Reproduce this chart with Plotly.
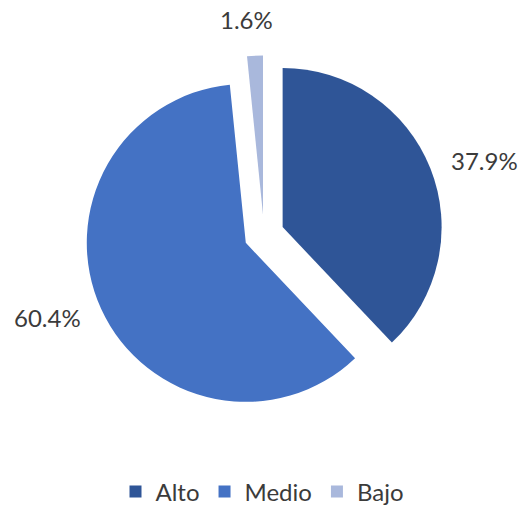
import math
import plotly.graph_objects as go

categories = ["Alto", "Medio", "Bajo"]
shares = [37.9, 60.4, 1.6]
colors = ["#2F5597", "#4472C4", "#A9B8DC"]

W, H = 525, 508
MB = 52                      # bottom margin reserved for the legend
PH = H - MB                  # plot-area height
CX, CY, R = 264.0, 234.5, 159.0   # pie centre / radius in px (top-left origin)
PULL = 0.126
LABEL_DIST = 1.25            # label anchor distance, in radii
FONT = "Lato, Open Sans, sans-serif"
TEXT_COLOR = "#3b3b3b"

half = R * (1 + PULL)
domain_x = [(CX - half) / W, (CX + half) / W]
domain_y = [1 - (CY + half) / PH, 1 - (CY - half) / PH]

fig = go.Figure(
    go.Pie(
        labels=categories,
        values=shares,
        sort=False,
        direction="clockwise",
        rotation=0,
        pull=[PULL] * len(shares),
        marker=dict(colors=colors, line=dict(width=0)),
        textinfo="none",
        hoverinfo="label+percent",
        domain=dict(x=domain_x, y=domain_y),
    )
)

# percentage labels placed along each slice's bisector
total = sum(shares)
cum = 0.0
for v in shares:
    theta = 2 * math.pi * (cum + v / 2) / total
    cum += v
    s, c = math.sin(theta), math.cos(theta)
    px = CX + LABEL_DIST * R * s
    py = CY - LABEL_DIST * R * c
    if s > 0.3:
        xa, ya = "left", "middle"
    elif s < -0.3:
        xa, ya = "right", "middle"
    else:
        xa, ya = "center", "bottom" if c > 0 else "top"
        px -= 8
    fig.add_annotation(
        x=px / W, y=1 - py / PH, xref="paper", yref="paper",
        text=f"{v:.1f}%", showarrow=False, xanchor=xa, yanchor=ya,
        font=dict(family=FONT, size=24, color=TEXT_COLOR),
    )

fig.update_layout(
    width=W,
    height=H,
    margin=dict(l=0, r=0, t=0, b=MB),
    paper_bgcolor="white",
    plot_bgcolor="white",
    showlegend=True,
    legend=dict(
        orientation="h",
        x=0.5,
        xanchor="center",
        yref="container",
        y=1 - 492 / H,
        yanchor="middle",
        font=dict(family=FONT, size=24, color=TEXT_COLOR),
    ),
)

fig.write_html("out.html")
